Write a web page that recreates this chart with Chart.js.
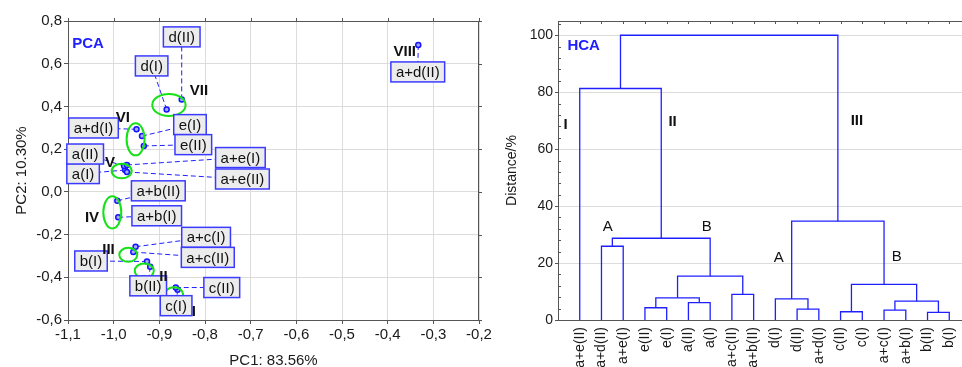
<!DOCTYPE html>
<html>
<head>
<meta charset="utf-8">
<script src="https://cdn.jsdelivr.net/npm/chart.js@4.4.0/dist/chart.umd.min.js"></script>
<style>
  body { margin: 0; width: 962px; height: 367px; overflow: hidden; background: #fff; position: relative; }
  #pcaBox { position: absolute; left: 0; top: 0; width: 500px; height: 380px; }
  #hcaBox { position: absolute; left: 490px; top: 0; width: 481px; height: 380px; }
</style>
</head>
<body>
<div id="pcaBox"><canvas id="pca"></canvas></div>
<div id="hcaBox"><canvas id="hca"></canvas></div>
<script>
// PCA scores
const pcaNames = ["a(I)", "a(II)", "b(I)", "b(II)", "c(I)", "c(II)", "d(I)", "d(II)", "e(I)", "e(II)",
  "a+b(I)", "a+b(II)", "a+c(I)", "a+c(II)", "a+d(I)", "a+d(II)", "a+e(I)", "a+e(II)"];
const pc1 = [-0.975, -0.977, -0.927, -0.920, -0.860, -0.864, -0.884, -0.851, -0.938, -0.934,
  -0.990, -0.992, -0.952, -0.957, -0.950, -0.333, -0.971, -0.971];
const pc2 = [0.102, 0.121, -0.326, -0.351, -0.458, -0.448, 0.386, 0.433, 0.261, 0.215,
  -0.119, -0.042, -0.257, -0.282, 0.293, 0.688, 0.126, 0.093];
const pcaXTicks = [-1.1, -1.0, -0.9, -0.8, -0.7, -0.6, -0.5, -0.4, -0.3, -0.2];
const pcaYTicks = [-0.6, -0.4, -0.2, 0.0, 0.2, 0.4, 0.6, 0.8];

// groups marked on the PCA plot
const groupNames = ["VIII", "VII", "VI", "V", "IV", "III", "II", "I"];

// HCA: leaf order and linkage (ids >= 18 are earlier merges)
const hcaLeaves = ["a+e(II)", "a+d(II)", "a+e(I)", "e(II)", "e(I)", "a(II)", "a(I)", "a+c(II)", "a+b(II)",
  "d(I)", "d(II)", "a+d(I)", "c(II)", "c(I)", "a+c(I)", "a+b(I)", "b(II)", "b(I)"];
const mergeLeft  = [16, 12, 14, 10, 3, 5, 20, 9, 22, 7, 19, 26, 1, 30, 25, 0, 33];
const mergeRight = [17, 13, 15, 11, 4, 6, 18, 21, 23, 8, 24, 27, 2, 29, 28, 31, 32];
const mergeDist  = [2.7, 2.9, 3.5, 3.8, 4.3, 6.1, 6.6, 7.4, 7.8, 9.0, 12.5, 15.4, 25.9, 28.7, 34.7, 81.3, 100];
const hcaYTicks = [0, 20, 40, 60, 80, 100];

const FONT = "'Liberation Sans', Arial, sans-serif";
Chart.defaults.font.family = FONT;
Chart.defaults.font.size = 15;
Chart.defaults.color = "#1a1a1a";
Chart.defaults.animation = false;

const BLUE = "#2020ff";
const GRID = "#dcdcdc";
const FRAME = "#555";

// label layout (pixel offset of the box centre from its point)
const labelOffset = {
  "a(I)": [-42, 3.5], "a(II)": [-39, -12], "b(I)": [-56, -0.5], "b(II)": [-2, 19],
  "c(I)": [-1.5, 16], "c(II)": [46, 0], "d(I)": [-15, -43.5], "d(II)": [0, -62.5],
  "e(I)": [48, -11.5], "e(II)": [49.5, -1.3], "a+b(I)": [38.5, -1.5], "a+b(II)": [41, -10],
  "a+c(I)": [70.5, -9.4], "a+c(II)": [74.5, 5.3], "a+d(I)": [-43, -1.3], "a+d(II)": [-0.5, 27],
  "a+e(I)": [113.5, -7.4], "a+e(II)": [115.5, 7]
};
// group marks: label position and ellipse (data units)
const groupLayout = {
  "VIII": { tx: -0.3626, ty: 0.655 },
  "VII": { tx: -0.8134, ty: 0.472, cx: -0.879, cy: 0.407, rx: 0.0365, ry: 0.0515 },
  "VI": { tx: -0.9797, ty: 0.346, cx: -0.952, cy: 0.246, rx: 0.0197, ry: 0.075 },
  "V": { tx: -1.008, ty: 0.135, cx: -0.9825, cy: 0.0974, rx: 0.0219, ry: 0.034 },
  "IV": { tx: -1.0475, ty: -0.123, cx: -1.003, cy: -0.096, rx: 0.0197, ry: 0.075 },
  "III": { tx: -1.0114, ty: -0.273, cx: -0.968, cy: -0.295, rx: 0.0197, ry: 0.0328 },
  "II": { tx: -0.891, ty: -0.399, cx: -0.933, cy: -0.370, rx: 0.0208, ry: 0.035 },
  "I": { tx: -0.8243, ty: -0.563, cx: -0.868, cy: -0.480, rx: 0.020, ry: 0.033 }
};

function comma(v) {
  return v.toFixed(1).replace(".", ",");
}

// frame + small tick marks on the free sides
function drawFrame(chart, topTicks, rightTicks, inward) {
  const { ctx, chartArea: a } = chart;
  ctx.save();
  ctx.strokeStyle = FRAME;
  ctx.lineWidth = 1;
  ctx.beginPath();
  ctx.moveTo(a.left, a.top + 0.5);
  ctx.lineTo(a.right, a.top + 0.5);
  ctx.moveTo(a.right - 0.5, a.top);
  ctx.lineTo(a.right - 0.5, a.bottom);
  const d = inward ? 3 : -3;
  topTicks.forEach((px) => {
    ctx.moveTo(Math.round(px) + 0.5, a.top);
    ctx.lineTo(Math.round(px) + 0.5, a.top + d);
  });
  rightTicks.forEach((py) => {
    ctx.moveTo(a.right, Math.round(py) + 0.5);
    ctx.lineTo(a.right - d, Math.round(py) + 0.5);
  });
  ctx.stroke();
  ctx.restore();
}

// PCA annotations
const pcaDecor = {
  id: "pcaDecor",
  beforeDatasetsDraw(chart) {
    const { ctx, scales: { x, y } } = chart;
    ctx.save();
    ctx.strokeStyle = BLUE;
    ctx.lineWidth = 1;
    ctx.setLineDash([5, 3]);
    pcaNames.forEach((n, i) => {
      const px = x.getPixelForValue(pc1[i]);
      const py = y.getPixelForValue(pc2[i]);
      const o = labelOffset[n];
      ctx.beginPath();
      ctx.moveTo(px, py);
      ctx.lineTo(px + o[0], py + o[1]);
      ctx.stroke();
    });
    ctx.restore();
  },
  afterDatasetsDraw(chart) {
    const { ctx, scales: { x, y } } = chart;
    ctx.save();
    // ellipses
    ctx.strokeStyle = "#16e016";
    ctx.lineWidth = 2;
    groupNames.forEach((g) => {
      const e = groupLayout[g];
      if (e.cx === undefined) return;
      const cx = x.getPixelForValue(e.cx), cy = y.getPixelForValue(e.cy);
      const rx = Math.abs(x.getPixelForValue(e.cx + e.rx) - cx);
      const ry = Math.abs(y.getPixelForValue(e.cy + e.ry) - cy);
      ctx.beginPath();
      ctx.ellipse(cx, cy, rx, ry, 0, 0, Math.PI * 2);
      ctx.stroke();
    });
    // label boxes
    ctx.font = "15px " + FONT;
    ctx.textAlign = "center";
    ctx.textBaseline = "middle";
    pcaNames.forEach((n, i) => {
      const o = labelOffset[n];
      const bx = x.getPixelForValue(pc1[i]) + o[0];
      const by = y.getPixelForValue(pc2[i]) + o[1];
      const w = ctx.measureText(n).width + 10, h = 20;
      ctx.fillStyle = "#ececec";
      ctx.fillRect(bx - w / 2, by - h / 2, w, h);
      ctx.strokeStyle = "#3b3bff";
      ctx.lineWidth = 1.5;
      ctx.strokeRect(bx - w / 2, by - h / 2, w, h);
      ctx.fillStyle = "#111";
      ctx.fillText(n, bx, by + 1);
    });
    // group numerals
    ctx.font = "bold 15px " + FONT;
    ctx.fillStyle = "#111";
    groupNames.forEach((g) => {
      const e = groupLayout[g];
      ctx.fillText(g, x.getPixelForValue(e.tx), y.getPixelForValue(e.ty));
    });
    ctx.fillStyle = BLUE;
    ctx.fillText("PCA", x.getPixelForValue(-1.056), y.getPixelForValue(0.692));
    ctx.restore();
    drawFrame(chart, pcaXTicks.map((v) => x.getPixelForValue(v)),
      pcaYTicks.map((v) => y.getPixelForValue(v)), false);
  }
};

new Chart(document.getElementById("pca"), {
  type: "scatter",
  data: {
    datasets: [{
      data: pc1.map((v, i) => ({ x: v, y: pc2[i] })),
      pointRadius: 2.5,
      borderWidth: 1.5,
      borderColor: "#1414ff",
      backgroundColor: "#a8a8ff"
    }]
  },
  options: {
    responsive: true,
    maintainAspectRatio: false,
    layout: { padding: { top: 21, right: 21, left: 0, bottom: 0 } },
    plugins: { legend: { display: false }, tooltip: { enabled: false } },
    scales: {
      x: {
        min: -1.1, max: -0.2,
        afterBuildTicks: (s) => { s.ticks = pcaXTicks.map((v) => ({ value: v })); },
        afterFit: (s) => { s.height = 60; s.paddingLeft = 0; s.paddingRight = 0; },
        ticks: { callback: (v) => comma(v), padding: 2, maxRotation: 0, autoSkip: false },
        grid: { color: GRID, tickColor: FRAME, tickLength: 4 },
        border: { color: FRAME },
        title: { display: true, text: "PC1: 83.56%", padding: { top: 0, bottom: 10 } }
      },
      y: {
        min: -0.6, max: 0.8,
        afterBuildTicks: (s) => { s.ticks = pcaYTicks.map((v) => ({ value: v })); },
        afterFit: (s) => { s.width = 68; s.paddingTop = 0; s.paddingBottom = 0; },
        ticks: { callback: (v) => comma(v), padding: 2, autoSkip: false },
        grid: { color: GRID, tickColor: FRAME, tickLength: 4 },
        border: { color: FRAME },
        title: { display: true, text: "PC2: 10.30%", padding: { top: 13, bottom: 0 } }
      }
    }
  },
  plugins: [pcaDecor]
});

// HCA: build the dendrogram links from the linkage
const nodeX = hcaLeaves.map((_, i) => i + 1);
const nodeH = hcaLeaves.map(() => 0);
const links = [];
mergeLeft.forEach((l, k) => {
  const r = mergeRight[k], h = mergeDist[k];
  links.push({
    data: [
      { x: nodeX[l], y: nodeH[l] }, { x: nodeX[l], y: h },
      { x: nodeX[r], y: h }, { x: nodeX[r], y: nodeH[r] }
    ],
    showLine: true,
    borderColor: BLUE,
    borderWidth: 1.3,
    pointRadius: 0,
    tension: 0
  });
  nodeX.push((nodeX[l] + nodeX[r]) / 2);
  nodeH.push(h);
});

const hcaNotes = [
  { t: "I", x: 0.35, y: 68.4, bold: true },
  { t: "II", x: 5.27, y: 69.5, bold: true },
  { t: "III", x: 13.75, y: 69.8, bold: true },
  { t: "A", x: 2.29, y: 32.6 },
  { t: "B", x: 6.84, y: 32.6 },
  { t: "A", x: 10.15, y: 21.8 },
  { t: "B", x: 15.59, y: 22.1 }
];

const hcaDecor = {
  id: "hcaDecor",
  afterDatasetsDraw(chart) {
    const { ctx, chartArea: a, scales: { x, y } } = chart;
    ctx.save();
    ctx.textAlign = "center";
    ctx.textBaseline = "middle";
    ctx.fillStyle = BLUE;
    ctx.font = "bold 15px " + FONT;
    ctx.fillText("HCA", x.getPixelForValue(1.18), y.getPixelForValue(96.1));
    ctx.fillStyle = "#111";
    hcaNotes.forEach((n) => {
      ctx.font = (n.bold ? "bold " : "") + "15px " + FONT;
      ctx.fillText(n.t, x.getPixelForValue(n.x), y.getPixelForValue(n.y));
    });
    // minor ticks on the left axis
    ctx.strokeStyle = FRAME;
    ctx.lineWidth = 1;
    ctx.beginPath();
    for (let v = 4; v <= 104; v += 4) {
      if (v % 20 === 0) continue;
      const py = Math.round(y.getPixelForValue(v)) + 0.5;
      ctx.moveTo(a.left, py);
      ctx.lineTo(a.left + 3, py);
    }
    ctx.stroke();
    ctx.restore();
    drawFrame(chart, hcaLeaves.map((_, i) => x.getPixelForValue(i + 1)), [], true);
  }
};

new Chart(document.getElementById("hca"), {
  type: "scatter",
  data: { datasets: links },
  options: {
    responsive: true,
    maintainAspectRatio: false,
    layout: { padding: { top: 21, right: 0, left: 0, bottom: 0 } },
    plugins: { legend: { display: false }, tooltip: { enabled: false } },
    scales: {
      x: {
        min: 0, max: 19,
        afterBuildTicks: (s) => { s.ticks = hcaLeaves.map((_, i) => ({ value: i + 1 })); },
        afterFit: (s) => { s.height = 60; s.paddingLeft = 0; s.paddingRight = 0; },
        ticks: {
          callback: (v) => hcaLeaves[v - 1],
          font: { size: 14 },
          minRotation: 90, maxRotation: 90, autoSkip: false, padding: 7
        },
        grid: { display: false, drawTicks: false },
        border: { color: FRAME }
      },
      y: {
        min: 0, max: 105,
        afterBuildTicks: (s) => { s.ticks = hcaYTicks.map((v) => ({ value: v })); },
        afterFit: (s) => { s.width = 68; s.paddingTop = 0; s.paddingBottom = 0; },
        ticks: { padding: 2, autoSkip: false, font: { size: 14 } },
        grid: {
          color: (c) => (c.tick && c.tick.value === 0 ? "rgba(0,0,0,0)" : GRID),
          tickColor: FRAME, tickLength: 3
        },
        border: { color: FRAME },
        title: { display: true, text: "Distance/%", font: { size: 14 }, padding: { top: 14, bottom: 0 } }
      }
    }
  },
  plugins: [hcaDecor]
});
</script>
</body>
</html>
